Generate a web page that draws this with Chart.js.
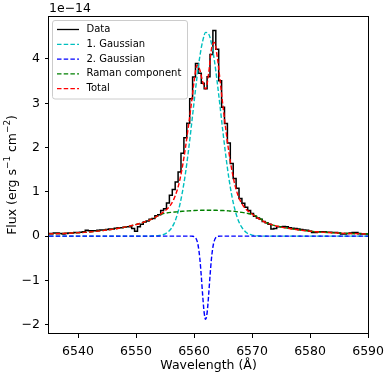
<!DOCTYPE html>
<html>
<head>
<meta charset="utf-8">
<script src="https://cdn.jsdelivr.net/npm/chart.js@4.4.1/dist/chart.umd.min.js"></script>
<style>
  html, body { margin: 0; padding: 0; background: #fff; }
  #wrap { width: 390px; height: 377px; }
</style>
</head>
<body>
<div id="wrap"><canvas id="chart" width="390" height="377"></canvas></div>
<script>
// observed spectrum (binned, 0.5 A)
const wave = [
  6535, 6535.5, 6536, 6536.5, 6537, 6537.5, 6538, 6538.5, 6539, 6539.5,
  6540, 6540.5, 6541, 6541.5, 6542, 6542.5, 6543, 6543.5, 6544, 6544.5,
  6545, 6545.5, 6546, 6546.5, 6547, 6547.5, 6548, 6548.5, 6549, 6549.5,
  6550, 6550.5, 6551, 6551.5, 6552, 6552.5, 6553, 6553.5, 6554, 6554.5,
  6555, 6555.5, 6556, 6556.5, 6557, 6557.5, 6558, 6558.5, 6559, 6559.5,
  6560, 6560.5, 6561, 6561.5, 6562, 6562.5, 6563, 6563.5, 6564, 6564.5,
  6565, 6565.5, 6566, 6566.5, 6567, 6567.5, 6568, 6568.5, 6569, 6569.5,
  6570, 6570.5, 6571, 6571.5, 6572, 6572.5, 6573, 6573.5, 6574, 6574.5,
  6575, 6575.5, 6576, 6576.5, 6577, 6577.5, 6578, 6578.5, 6579, 6579.5,
  6580, 6580.5, 6581, 6581.5, 6582, 6582.5, 6583, 6583.5, 6584, 6584.5,
  6585, 6585.5, 6586, 6586.5, 6587, 6587.5, 6588, 6588.5, 6589, 6589.5,
  6590
];
const flux = [
  0.06, 0.06, 0.07, 0.07, 0.06, 0.05, 0.06, 0.07, 0.07, 0.08,
  0.08, 0.09, 0.10, 0.13, 0.12, 0.12, 0.12, 0.13, 0.14, 0.14,
  0.15, 0.16, 0.16, 0.18, 0.19, 0.19, 0.20, 0.21, 0.21, 0.17,
  0.11, 0.21, 0.27, 0.32, 0.34, 0.38, 0.40, 0.46, 0.48, 0.58,
  0.62, 0.75, 0.92, 1.05, 1.22, 1.45, 1.87, 2.22, 2.55, 3.10,
  3.59, 3.90, 3.68, 3.45, 3.33, 3.60, 4.10, 4.64, 4.22, 3.51,
  2.91, 2.54, 2.10, 1.64, 1.30, 1.08, 0.85, 0.74, 0.65, 0.58,
  0.51, 0.45, 0.41, 0.38, 0.33, 0.30, 0.27, 0.16, 0.17, 0.21,
  0.21, 0.22, 0.21, 0.19, 0.18, 0.17, 0.16, 0.15, 0.14, 0.13,
  0.11, 0.08, 0.08, 0.10, 0.10, 0.10, 0.09, 0.09, 0.08, 0.08,
  0.07, 0.05, 0.05, 0.06, 0.07, 0.08, 0.08, 0.06, 0.05, 0.05,
  0.05
];

// 1. Gaussian (broad emission)
const g1Wave = [
  6535, 6552, 6552.5, 6553, 6553.5, 6554, 6554.5, 6555, 6555.5, 6556, 6556.5,
  6557, 6557.5, 6558, 6558.5, 6559, 6559.5, 6560, 6560.5, 6561, 6561.5,
  6562, 6562.5, 6563, 6563.5, 6564, 6564.5, 6565, 6565.5, 6566, 6566.5,
  6567, 6567.5, 6568, 6568.5, 6569, 6569.5, 6570, 6570.5, 6571, 6571.5,
  6572, 6590
];
const g1Flux = [
  0, 0, 0.001, 0.002, 0.006, 0.013, 0.027, 0.051, 0.093, 0.16, 0.27,
  0.44, 0.68, 1.00, 1.40, 1.89, 2.44, 3.02, 3.58, 4.06, 4.41,
  4.60, 4.57, 4.35, 3.97, 3.47, 2.91, 2.33, 1.79, 1.31, 0.92,
  0.62, 0.40, 0.25, 0.15, 0.083, 0.045, 0.023, 0.012, 0.005, 0.002,
  0.001, 0
];

// 2. Gaussian (narrow absorption)
const g2Wave = [
  6535, 6559.5, 6559.75, 6560, 6560.25, 6560.5, 6560.75, 6561, 6561.25, 6561.5, 6561.75,
  6562, 6562.25, 6562.5, 6562.75, 6563, 6563.25, 6563.5, 6563.75, 6564, 6564.25, 6564.5, 6590
];
const g2Flux = [
  0, 0, -0.003, -0.010, -0.035, -0.101, -0.247, -0.512, -0.905, -1.358, -1.733,
  -1.88, -1.733, -1.358, -0.905, -0.512, -0.247, -0.101, -0.035, -0.010, -0.003, 0, 0
];

// Raman component
const ramanWave = [
  6535, 6537, 6539, 6541, 6543, 6545, 6547, 6549, 6551, 6552, 6553, 6553.5,
  6554, 6554.5, 6555, 6556, 6557, 6558, 6559, 6560, 6561, 6562, 6563, 6564,
  6565, 6566, 6567, 6568, 6569, 6569.5, 6570, 6570.5, 6571, 6571.5, 6572,
  6573, 6575, 6577, 6579, 6581, 6583, 6585, 6587, 6590
];
const ramanFlux = [
  0.05, 0.058, 0.07, 0.085, 0.106, 0.137, 0.177, 0.23, 0.30, 0.345, 0.40, 0.44,
  0.475, 0.50, 0.515, 0.535, 0.548, 0.56, 0.57, 0.577, 0.582, 0.585, 0.585, 0.582,
  0.577, 0.569, 0.558, 0.54, 0.52, 0.505, 0.49, 0.465, 0.43, 0.39, 0.335,
  0.275, 0.205, 0.16, 0.125, 0.10, 0.082, 0.069, 0.058, 0.048
];

// Total model
const totalWave = [
  6535, 6537, 6539, 6541, 6543, 6545, 6547, 6549, 6550, 6551, 6552,
  6553, 6553.5, 6554, 6554.5, 6555, 6555.5, 6556, 6556.5, 6557, 6557.5,
  6558, 6558.5, 6559, 6559.5, 6560, 6560.5, 6561, 6561.5, 6562, 6562.5,
  6563, 6563.5, 6564, 6564.5, 6565, 6565.5, 6566, 6566.5, 6567, 6567.5,
  6568, 6568.5, 6569, 6569.5, 6570, 6570.5, 6571, 6571.5, 6572,
  6573, 6574, 6575, 6577, 6579, 6581, 6583, 6585, 6587, 6590
];
const totalFlux = [
  0.05, 0.058, 0.07, 0.085, 0.106, 0.137, 0.177, 0.23, 0.26, 0.30, 0.345,
  0.40, 0.44, 0.48, 0.52, 0.57, 0.63, 0.71, 0.83, 1.00, 1.24,
  1.57, 1.98, 2.45, 2.95, 3.48, 3.86, 3.75, 3.48, 3.32, 3.66,
  4.22, 4.37, 4.05, 3.50, 2.92, 2.38, 1.90, 1.50, 1.18, 0.95,
  0.79, 0.68, 0.60, 0.55, 0.50, 0.45, 0.405, 0.365, 0.33,
  0.275, 0.235, 0.205, 0.16, 0.125, 0.10, 0.082, 0.069, 0.058, 0.048
];

const xTicks = [6540, 6550, 6560, 6570, 6580, 6590];
const yTicks = [-2, -1, 0, 1, 2, 3, 4];
const seriesNames = ['Data', '1. Gaussian', '2. Gaussian', 'Raman component', 'Total'];

const FONT = '"DejaVu Sans", sans-serif';
const DASH = [4.5, 2.2];
const colors = ['#000000', '#00bfbf', '#0000ff', '#008000', '#ff0000'];

function pts(xs, ys) {
  return xs.map((x, i) => ({ x: x, y: ys[i] }));
}

function minus(v) {
  return v < 0 ? '\u2212' + Math.abs(v) : String(v);
}

const frame = {
  id: 'frame',
  afterDraw(chart) {
    const ctx = chart.ctx;
    const a = chart.chartArea;
    ctx.save();

    // spines
    ctx.strokeStyle = '#000';
    ctx.lineWidth = 1;
    ctx.strokeRect(Math.round(a.left) - 0.5, Math.round(a.top) + 0.5,
      Math.round(a.right - a.left) + 1, Math.round(a.bottom - a.top) - 1);

    // offset text
    ctx.fillStyle = '#000';
    ctx.font = '12.5px ' + FONT;
    ctx.textAlign = 'left';
    ctx.textBaseline = 'middle';
    ctx.fillText('1e\u221214', a.left, 9);

    // x title
    ctx.textAlign = 'center';
    ctx.fillText('Wavelength (\u00c5)', (a.left + a.right) / 2, 366);

    // y title with superscripts
    const parts = [['Flux (erg s', 0], ['\u22121', 1], [' cm', 0], ['\u22122', 1], [')', 0]];
    const big = '12.5px ' + FONT, small = '8.8px ' + FONT;
    let total = 0;
    parts.forEach(p => { ctx.font = p[1] ? small : big; total += ctx.measureText(p[0]).width; });
    ctx.translate(13, (a.top + a.bottom) / 2);
    ctx.rotate(-Math.PI / 2);
    ctx.textAlign = 'left';
    let px = -total / 2;
    parts.forEach(p => {
      ctx.font = p[1] ? small : big;
      ctx.fillText(p[0], px, p[1] ? -5 : 0);
      px += ctx.measureText(p[0]).width;
    });
    ctx.setTransform(1, 0, 0, 1, 0, 0);

    // legend
    const bx = 52.5, by = 20.5, bw = 135, bh = 78.5;
    ctx.beginPath();
    ctx.roundRect(bx, by, bw, bh, 2.5);
    ctx.fillStyle = 'rgba(255,255,255,0.8)';
    ctx.fill();
    ctx.strokeStyle = '#cccccc';
    ctx.lineWidth = 1;
    ctx.stroke();
    ctx.font = '10px ' + FONT;
    ctx.textBaseline = 'middle';
    seriesNames.forEach((name, i) => {
      const y = 29.5 + i * 14.8;
      ctx.beginPath();
      ctx.setLineDash(i === 0 ? [] : DASH);
      ctx.strokeStyle = colors[i];
      ctx.lineWidth = 1.3;
      ctx.moveTo(57, y);
      ctx.lineTo(79, y);
      ctx.stroke();
      ctx.setLineDash([]);
      ctx.fillStyle = '#000';
      ctx.fillText(name, 86.5, y);
    });
    ctx.restore();
  }
};

const base = { fill: false, pointRadius: 0, borderWidth: 1.4 };

new Chart(document.getElementById('chart'), {
  type: 'line',
  data: {
    datasets: [
      Object.assign({}, base, { label: seriesNames[0], data: pts(wave, flux), borderColor: colors[0], borderWidth: 1.5, stepped: 'middle', order: 5 }),
      Object.assign({}, base, { label: seriesNames[1], data: pts(g1Wave, g1Flux), borderColor: colors[1], borderDash: DASH, cubicInterpolationMode: 'monotone', order: 4 }),
      Object.assign({}, base, { label: seriesNames[2], data: pts(g2Wave, g2Flux), borderColor: colors[2], borderDash: DASH, cubicInterpolationMode: 'monotone', order: 3 }),
      Object.assign({}, base, { label: seriesNames[3], data: pts(ramanWave, ramanFlux), borderColor: colors[3], borderDash: DASH, cubicInterpolationMode: 'monotone', order: 2 }),
      Object.assign({}, base, { label: seriesNames[4], data: pts(totalWave, totalFlux), borderColor: colors[4], borderDash: DASH, cubicInterpolationMode: 'monotone', order: 1 })
    ]
  },
  options: {
    responsive: false,
    animation: false,
    layout: { padding: { top: 16, right: 21, left: 0, bottom: 0 } },
    plugins: { legend: { display: false }, tooltip: { enabled: false } },
    scales: {
      x: {
        type: 'linear',
        min: 6535,
        max: 6590,
        afterFit: s => { s.height = 43; },
        afterBuildTicks: s => { s.ticks = xTicks.map(v => ({ value: v })); },
        grid: { drawOnChartArea: false, drawTicks: true, tickLength: 4, tickColor: '#000', tickWidth: 1 },
        border: { display: false },
        ticks: { color: '#000', font: { family: FONT, size: 12.5 }, padding: 6, maxRotation: 0, callback: v => String(v) }
      },
      y: {
        type: 'linear',
        min: -2.21,
        max: 4.97,
        afterFit: s => { s.width = 49; },
        afterBuildTicks: s => { s.ticks = yTicks.map(v => ({ value: v })); },
        grid: { drawOnChartArea: false, drawTicks: true, tickLength: 4, tickColor: '#000', tickWidth: 1 },
        border: { display: false },
        ticks: { color: '#000', font: { family: FONT, size: 12.5 }, padding: 5, callback: v => minus(v) }
      }
    }
  },
  plugins: [frame]
});
</script>
</body>
</html>
